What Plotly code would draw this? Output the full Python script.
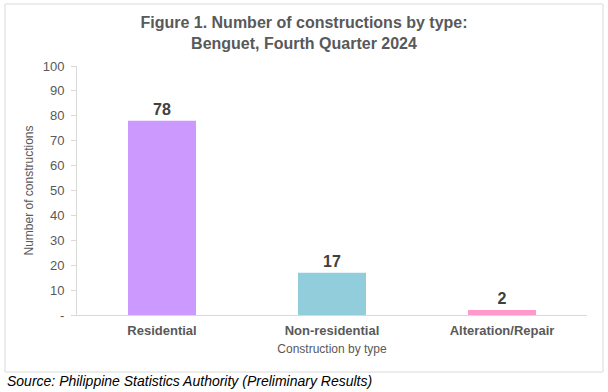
import plotly.graph_objects as go

categories = ["Residential", "Non-residential", "Alteration/Repair"]
values = [78, 17, 2]
colors = ["#CC99FF", "#92CDDC", "#FF99CC"]
tick_vals = [0, 10, 20, 30, 40, 50, 60, 70, 80, 90, 100]
tick_text = ["-", "10", "20", "30", "40", "50", "60", "70", "80", "90", "100"]

W, H = 608, 392
L, R, T, B = 77, 21, 66, 77
pw, ph = W - L - R, H - T - B

def px_x(x):
    return (x - L) / pw

def px_y(y):
    return (H - B - y) / ph

fig = go.Figure(go.Bar(
    x=categories, y=values,
    marker=dict(color=colors, line=dict(width=0)),
    text=[str(v) for v in values], textposition="outside",
    textfont=dict(family="Liberation Sans, Arial", size=16, color="#404040"),
    texttemplate="<b>%{text}</b>",
    cliponaxis=False,
    hoverinfo="skip",
))

fig.update_layout(
    width=W, height=H,
    margin=dict(l=L, r=R, t=T, b=B, autoexpand=False),
    paper_bgcolor="white", plot_bgcolor="white",
    bargap=0.6,
    showlegend=False,
    font=dict(family="Liberation Sans, Arial", color="#595959"),
    title=dict(
        text="<b>Figure 1. Number of constructions by type:<br>Benguet, Fourth Quarter 2024</b>",
        x=0.5, xref="container", xanchor="center",
        y=1 - 28 / H, yref="container", yanchor="middle",
        font=dict(size=16, color="#595959", family="Liberation Sans, Arial"),
    ),
    xaxis=dict(
        showline=True, linecolor="#D9D9D9", linewidth=1,
        showgrid=False, ticks="",
        tickfont=dict(size=13, color="#595959"),
        tickprefix="<b>", ticksuffix="</b>",
        ticklabelstandoff=3,
        title=dict(text="Construction by type", font=dict(size=12, color="#595959"), standoff=8),
    ),
    yaxis=dict(
        range=[0, 100], tickvals=tick_vals, ticktext=tick_text,
        showline=True, linecolor="#D9D9D9", linewidth=1,
        showgrid=False, zeroline=False,
        ticks="outside", ticklen=5, tickcolor="#D9D9D9",
        ticklabelstandoff=4,
        tickfont=dict(size=13, color="#595959"),
        title=dict(text="Number of constructions", font=dict(size=12, color="#595959"), standoff=6),
    ),
    shapes=[dict(
        type="rect", xref="paper", yref="paper",
        x0=px_x(5), x1=px_x(603), y0=px_y(372), y1=px_y(4),
        line=dict(color="#D9D9D9", width=1), fillcolor="rgba(0,0,0,0)", layer="below",
    )],
    annotations=[dict(
        text="<i>Source: Philippine Statistics Authority (Preliminary Results)</i>",
        xref="paper", yref="paper", x=px_x(5), y=px_y(381),
        xanchor="left", yanchor="middle", showarrow=False,
        font=dict(size=14, color="#000000", family="Liberation Sans, Arial"),
    )],
)

fig.write_html(
    "out.html",
    config={"displayModeBar": False, "staticPlot": True},
    post_script="document.body.style.margin='0';document.body.style.overflow='hidden';",
)
